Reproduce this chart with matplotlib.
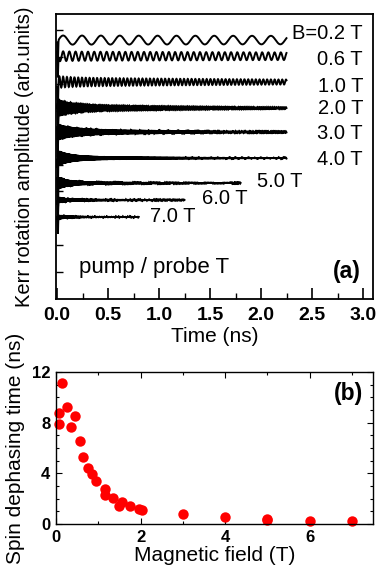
import numpy as np
import matplotlib
matplotlib.use("Agg")
import matplotlib.pyplot as plt
from matplotlib.ticker import MultipleLocator

plt.rcParams['font.family'] = ['Liberation Sans', 'DejaVu Sans']

# ---------------- panel (a) data: Kerr rotation traces ----------------
fields = [0.2, 0.6, 1.0, 2.0, 3.0, 4.0, 5.0, 6.0, 7.0]          # T
field_labels = ["B=0.2 T", "0.6 T", "1.0 T", "2.0 T", "3.0 T", "4.0 T", "5.0 T", "6.0 T", "7.0 T"]
precession_ghz = [5.4, 16.4, 27.0, 54.0, 81.0, 108.0, 135.0, 162.0, 189.0]
trace_offsets = [9.63, 9.03, 8.07, 7.10, 6.21, 5.24, 4.31, 3.68, 3.05]
trace_end_ns = [2.25, 2.25, 2.25, 2.25, 2.25, 2.25, 1.80, 1.25, 0.80]
amp_slow = [0.17, 0.17, 0.16, 0.14, 0.13, 0.09, 0.07, 0.05, 0.04]
tau_slow_ns = [30.0, 12.0, 4.0, 1.6, 1.3, 1.3, 1.0, 1.0, 1.0]
amp_fast = [0.00, 0.02, 0.06, 0.20, 0.18, 0.22, 0.18, 0.08, 0.05]
tau_fast_ns = [0.1, 0.1, 0.15, 0.15, 0.15, 0.12, 0.10, 0.08, 0.08]
spike_amp = [0.9, 0.9, 0.9, 0.9, 0.9, 0.9, 0.9, 0.7, 0.6]
label_t = [3.0, 3.0, 3.0, 3.0, 3.0, 3.0, 1.96, 1.42, 0.91]
label_y = [9.87, 8.89, 7.92, 7.07, 6.15, 5.20, 4.36, 3.72, 3.07]
label_ha = ['right'] * 6 + ['left'] * 3

# ---------------- panel (b) data: spin dephasing time ----------------
b_field = [0.06, 0.08, 0.15, 0.25, 0.35, 0.45, 0.56, 0.65, 0.75, 0.85, 0.95,
           1.15, 1.15, 1.35, 1.50, 1.56, 1.76, 1.96, 2.04, 3.0, 4.0, 5.0, 5.0, 6.0, 7.0]
t_deph = [8.74, 7.90, 11.16, 9.20, 7.68, 8.55, 6.58, 5.26, 4.45, 3.95, 3.40,
          2.74, 2.29, 2.08, 1.42, 1.71, 1.45, 1.18, 1.10, 0.76, 0.58, 0.42, 0.33, 0.26, 0.26]

W, H = 376, 579
fig = plt.figure(figsize=(W / 100, H / 100), dpi=100)

# ---------------- panel (a) ----------------
ax1 = fig.add_axes([56 / W, 1 - 299 / H, (373 - 56) / W, (299 - 14) / H])
for i in range(len(fields)):
    t = np.arange(0.0, trace_end_ns[i], 0.0004)
    env = amp_slow[i] * np.exp(-t / tau_slow_ns[i]) + amp_fast[i] * np.exp(-t / tau_fast_ns[i])
    sig = env * np.cos(2 * np.pi * precession_ghz[i] * (t - 0.06))
    sig = sig - spike_amp[i] * np.exp(-((t - 0.008) / 0.004) ** 2)
    ax1.plot(t, trace_offsets[i] + sig, color='black', lw=1.4, solid_joinstyle='miter')
    ax1.text(label_t[i], label_y[i], field_labels[i], ha=label_ha[i], va='center', fontsize=14.5)

ax1.set_xlim(-0.01, 3.098)
ax1.set_ylim(0, 10.6)
ax1.xaxis.set_minor_locator(MultipleLocator(0.25))
ax1.set_xticks([0, 0.5, 1.0, 1.5, 2.0, 2.5, 3.0])
ax1.set_xticklabels(["0.0", "0.5", "1.0", "1.5", "2.0", "2.5", "3.0"], fontweight='bold', fontsize=14)
ax1.set_yticks(np.arange(1, 11))
ax1.set_yticklabels([])
ax1.tick_params(axis='x', which='major', direction='in', length=8, width=1.2, top=False, pad=6)
ax1.tick_params(axis='x', which='minor', direction='in', length=4, width=1.0, top=False)
ax1.tick_params(axis='y', which='major', direction='in', length=5, width=1.0, right=False)
ax1.set_xlabel("Time (ns)", fontsize=15, labelpad=2)
ax1.set_ylabel("Kerr rotation amplitude (arb.units)", fontsize=14.5, labelpad=12)
ax1.text(0.22, 1.19, "pump / probe T", fontsize=16, ha='left', va='center')
ax1.text(0.962, 0.095, "(a)", transform=ax1.transAxes, fontsize=16.5, fontweight='bold', ha='right', va='center')
for s in ax1.spines.values():
    s.set_linewidth(1.3)

# ---------------- panel (b) ----------------
ax2 = fig.add_axes([56 / W, 1 - 524 / H, (373 - 56) / W, (524 - 372) / H])
ax2.plot(b_field, t_deph, 'o', color='#ff0000', markersize=7.5, markeredgewidth=0, clip_on=False)
ax2.set_xlim(0, 7.5)
ax2.set_ylim(0, 12)
ax2.set_xticks([0, 2, 4, 6])
ax2.set_xticklabels(["0", "2", "4", "6"], fontweight='bold', fontsize=12)
ax2.set_yticks([0, 4, 8, 12])
ax2.set_yticklabels(["0", "4", "8", "12"], fontweight='bold', fontsize=12)
ax2.xaxis.set_minor_locator(MultipleLocator(1))
ax2.yaxis.set_minor_locator(MultipleLocator(1))
ax2.tick_params(which='major', direction='in', length=4, width=0.8, top=True, right=True, pad=4)
ax2.tick_params(which='minor', direction='in', length=2.5, width=0.8, top=True, right=True)
ax2.set_xlabel("Magnetic field (T)", fontsize=15, labelpad=1)
ax2.set_ylabel("Spin dephasing time (ns)", fontsize=15, labelpad=5)
ax2.text(0.97, 0.86, "(b)", transform=ax2.transAxes, fontsize=16.5, fontweight='bold', ha='right', va='center')
for s in ax2.spines.values():
    s.set_linewidth(1.0)

fig.savefig("out.png", dpi=100)
